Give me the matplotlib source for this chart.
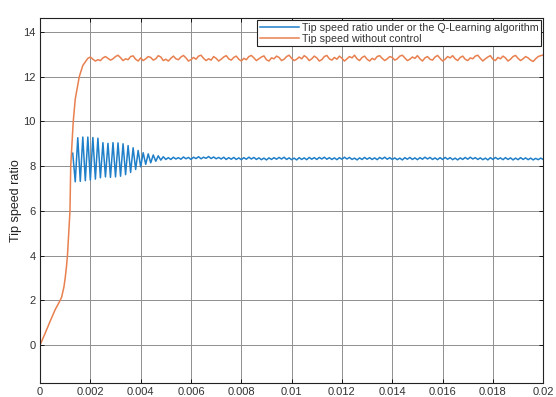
import numpy as np
import matplotlib
matplotlib.use("Agg")
from matplotlib import pyplot as plt
from matplotlib.ticker import FuncFormatter

plt.rcParams['font.family'] = ['Liberation Sans', 'DejaVu Sans']

# orange: tip speed without control (start-up part, read point by point)
orange_rise_t = [0, 0.0002, 0.0004, 0.0006, 0.0008, 0.00086, 0.00095, 0.001, 0.00105, 0.00109,
                 0.00114, 0.00119, 0.00122, 0.00127, 0.00132, 0.0014, 0.00156, 0.0017, 0.0019, 0.002]
orange_rise_v = [0, 0.52, 1.06, 1.58, 2.0, 2.15, 2.6, 3.0, 3.5, 4.0,
                 5.0, 6.0, 8.0, 9.0, 10.0, 11.0, 12.0, 12.5, 12.82, 12.88]

# orange steady part, 0.0021 .. 0.02 every 0.0001
orange_steady = [
    12.78, 12.7, 12.76, 12.72, 12.84, 12.9, 12.82, 12.74, 12.8, 12.9,
    12.96, 12.85, 12.72, 12.8, 12.76, 12.9, 12.93, 12.78, 12.7, 12.84,
    12.72, 12.8, 12.9, 12.86, 12.74, 12.8, 12.94, 12.88, 12.72, 12.78,
    12.7, 12.82, 12.92, 12.8, 12.76, 12.88, 12.95, 12.84, 12.7, 12.76,
    12.86, 12.78, 12.92, 12.96, 12.82, 12.72, 12.8, 12.74, 12.9, 12.82,
    12.7, 12.78, 12.88, 12.94, 12.8, 12.74, 12.86, 12.92, 12.78, 12.7,
    12.82, 12.76, 12.9, 12.95, 12.84, 12.72, 12.8, 12.88, 12.93, 12.76,
    12.7, 12.84, 12.8, 12.92, 12.86, 12.72, 12.78, 12.9, 12.96, 12.82,
    12.72, 12.78, 12.88, 12.8, 12.94, 12.86, 12.72, 12.8, 12.92, 12.84,
    12.7, 12.76, 12.9, 12.95, 12.8, 12.74, 12.86, 12.78, 12.92, 12.82,
    12.7, 12.8, 12.9, 12.84, 12.96, 12.8, 12.72, 12.86, 12.92, 12.78,
    12.7, 12.82, 12.76, 12.9, 12.94, 12.82, 12.72, 12.8, 12.9, 12.86,
    12.74, 12.8, 12.92, 12.96, 12.84, 12.72, 12.78, 12.88, 12.82, 12.94,
    12.8, 12.7, 12.84, 12.9, 12.78, 12.74, 12.88, 12.95, 12.82, 12.7,
    12.78, 12.9, 12.84, 12.94, 12.8, 12.72, 12.86, 12.92, 12.78, 12.72,
    12.84, 12.8, 12.92, 12.96, 12.82, 12.7, 12.8, 12.88, 12.94, 12.78,
    12.72, 12.86, 12.8, 12.92, 12.84, 12.7, 12.78, 12.9, 12.95, 12.82,
    12.72, 12.8, 12.9, 12.84, 12.74, 12.68, 12.8, 12.9, 12.94, 12.97,
]

# blue: tip speed ratio with Q-Learning, oscillating part 0.0013 .. 0.005 every 0.0001
blue_osc = [
    8.58, 7.3, 9.27, 7.32, 9.3, 7.35, 9.3, 7.38, 9.28, 7.42,
    9.25, 7.48, 9.05, 7.52, 9.02, 7.5, 9.05, 7.52, 9.04, 7.55,
    9.0, 7.62, 8.92, 7.72, 8.82, 7.85, 8.7, 7.97, 8.6, 8.08,
    8.55, 8.15, 8.5, 8.22, 8.46, 8.27, 8.42, 8.3,
]

# blue steady part, 0.0051 .. 0.02 every 0.0001
blue_steady = [
    8.38, 8.3, 8.4, 8.32, 8.38, 8.31, 8.41, 8.33, 8.39, 8.3,
    8.4, 8.34, 8.42, 8.33, 8.4, 8.35, 8.43, 8.34, 8.41, 8.33,
    8.39, 8.32, 8.4, 8.3, 8.38, 8.31, 8.39, 8.3, 8.37, 8.29,
    8.38, 8.31, 8.4, 8.32, 8.39, 8.3, 8.37, 8.29, 8.36, 8.28,
    8.37, 8.3, 8.38, 8.31, 8.39, 8.32, 8.4, 8.3, 8.37, 8.29,
    8.36, 8.28, 8.38, 8.3, 8.37, 8.29, 8.39, 8.31, 8.38, 8.3,
    8.39, 8.32, 8.4, 8.31, 8.38, 8.3, 8.37, 8.29, 8.38, 8.31,
    8.4, 8.32, 8.39, 8.3, 8.36, 8.28, 8.37, 8.3, 8.39, 8.31,
    8.38, 8.3, 8.37, 8.29, 8.39, 8.32, 8.4, 8.31, 8.38, 8.3,
    8.37, 8.29, 8.36, 8.28, 8.38, 8.31, 8.39, 8.3, 8.37, 8.29,
    8.38, 8.31, 8.4, 8.32, 8.39, 8.3, 8.37, 8.29, 8.38, 8.3,
    8.39, 8.31, 8.38, 8.29, 8.36, 8.28, 8.37, 8.3, 8.39, 8.31,
    8.4, 8.32, 8.38, 8.3, 8.37, 8.29, 8.36, 8.28, 8.38, 8.3,
    8.39, 8.31, 8.37, 8.29, 8.38, 8.3, 8.37, 8.28, 8.36, 8.29,
    8.38, 8.3, 8.37, 8.29, 8.36, 8.28, 8.35, 8.29, 8.36, 8.3,
]

labels = ["Tip speed ratio under or the Q-Learning algorithm", "Tip speed without control"]

orange_t = np.concatenate([orange_rise_t, np.linspace(0.0021, 0.02, len(orange_steady))])
orange_v = np.concatenate([orange_rise_v, orange_steady])
blue_t = np.concatenate([np.linspace(0.0013, 0.005, len(blue_osc)),
                         np.linspace(0.0051, 0.02, len(blue_steady))])
blue_v = np.concatenate([blue_osc, blue_steady])

fig = plt.figure(figsize=(5.56, 3.97), dpi=100)
ax = fig.add_axes([0.072, 0.035, 0.905, 0.92])

ax.plot(blue_t, blue_v, color="#1f7fc8", lw=1.1, label=labels[0])
ax.plot(orange_t, orange_v, color="#E8804F", lw=1.1, label=labels[1])

ax.set_xlim(0, 0.02)
ax.set_ylim(-1.7, 14.63)
ax.set_xticks(np.arange(0, 0.0201, 0.002))
ax.set_yticks(np.arange(0, 15, 2))
ax.xaxis.set_major_formatter(FuncFormatter(lambda v, p: "%g" % round(v, 4)))
ax.tick_params(direction="in", top=True, right=True, labelsize=8,
               labelcolor="#333333", length=3, width=0.6, pad=3)
ax.grid(True, color="#8f8f8f", lw=0.7)
ax.set_axisbelow(True)
for s in ax.spines.values():
    s.set_linewidth(0.8)
    s.set_color("#222222")

ax.set_ylabel("Tip speed ratio", fontsize=9, color="#222222")
ax.yaxis.set_label_coords(-0.036, 0.5)

leg = ax.legend(loc="upper right", fontsize=7.7, fancybox=False, framealpha=1,
                edgecolor="#222222", borderaxespad=0.2, handlelength=3.7,
                borderpad=0.25, labelspacing=0.1, handletextpad=0.25)
leg.get_frame().set_linewidth(0.8)
for t in leg.get_texts():
    t.set_color("#333333")

fig.savefig("out.png", dpi=100)
